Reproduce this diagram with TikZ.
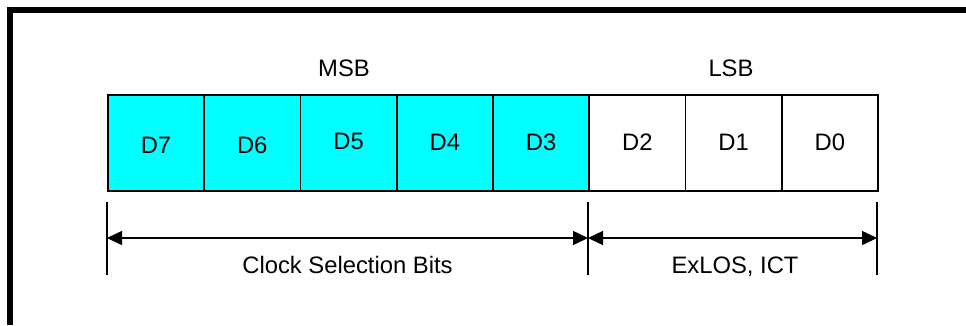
\documentclass[tikz,border=0pt]{standalone}
\usepackage{fontspec}
\setmainfont{Liberation Sans}
\usetikzlibrary{arrows.meta}
\definecolor{regcyan}{RGB}{0,255,255}
\begin{document}
\begin{tikzpicture}[x=1pt,y=-1pt,
 txt/.style={font=\fontsize{23.8}{28}\selectfont},
 cell/.style={txt,draw=black,line width=1.8pt,minimum width=96.25pt,minimum height=96pt,inner sep=0pt,anchor=north west,fill=white},
 msbcell/.style={cell,fill=regcyan},
 lbl/.style={txt,inner sep=0pt,anchor=base},
 dim/.style={line width=1.5pt,{Triangle[length=15pt,width=14pt]}-{Triangle[length=15pt,width=14pt]}},
 tickline/.style={line width=1.8pt},
 frameline/.style={line width=6pt}]
\useasboundingbox (0,0) rectangle (966,325);
\fill[white] (0,0) rectangle (966,325);
% frame
\draw[frameline] (10,325) -- (10,10) -- (966,10);
% register cells
\node[msbcell] (c7) at (107,94) {\raisebox{-2pt}[\height][\depth]{D7}};
\node[msbcell] (c6) at (203.25,94) {\raisebox{-2pt}[\height][\depth]{D6}};
\node[msbcell] (c5) at (299.5,94) {\raisebox{1pt}[\height][\depth]{D5}};
\node[msbcell] (c4) at (395.75,94) {\raisebox{1pt}[\height][\depth]{D4}};
\node[msbcell] (c3) at (492,94) {\raisebox{1pt}[\height][\depth]{D3}};
\node[cell] (c2) at (588.25,94) {\raisebox{1pt}[\height][\depth]{D2}};
\node[cell] (c1) at (684.5,94) {\raisebox{1pt}[\height][\depth]{D1}};
\node[cell] (c0) at (780.75,94) {\raisebox{1pt}[\height][\depth]{D0}};
% headings
\node[lbl] (msb) at (344,76) {MSB};
\node[lbl] (lsb) at (731,76) {LSB};
% dimension ticks
\coordinate (ta1) at (107,202); \coordinate (ta2) at (107,275);
\coordinate (tb1) at (588,202); \coordinate (tb2) at (588,275);
\coordinate (tc1) at (877,202); \coordinate (tc2) at (877,275);
\draw[tickline] (ta1) -- (ta2);
\draw[tickline] (tb1) -- (tb2);
\draw[tickline] (tc1) -- (tc2);
\coordinate (aa) at (107,238);
\coordinate (ab) at (588,238);
\coordinate (ac) at (877,238);
\draw[dim] (aa) -- (ab);
\draw[dim] (ab) -- (ac);
% dimension labels
\node[lbl] (clk) at (347.5,273) {Clock Selection Bits};
\node[lbl] (exl) at (735,273) {ExLOS, ICT};
\end{tikzpicture}
\end{document}
